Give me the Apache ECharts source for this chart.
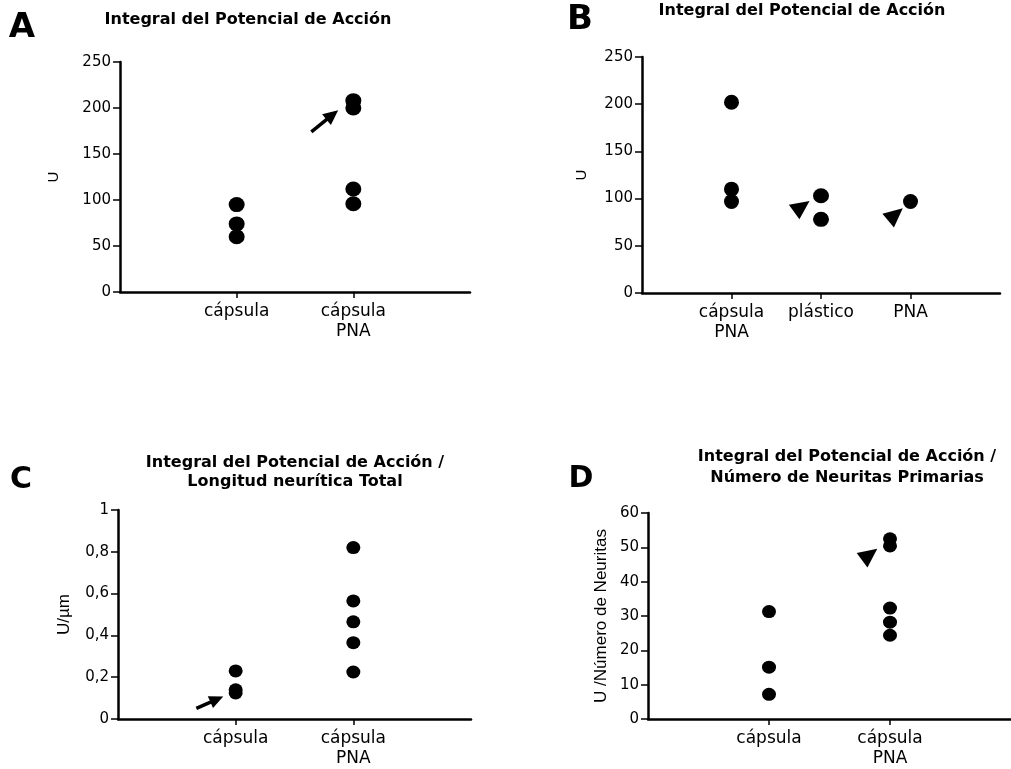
<!DOCTYPE html>
<html>
<head>
<meta charset="utf-8">
<script src="https://cdn.jsdelivr.net/npm/echarts@6/dist/echarts.min.js"></script>
<style>
  html, body { margin: 0; padding: 0; background: #fff; }
  #chart { width: 1011px; height: 769px; }
</style>
</head>
<body>
<div id="chart"></div>
<script>
// Panel A: Integral del Potencial de Acción
var catsA = ['cápsula', 'cápsula\nPNA'];
var capsulaA = [95, 74, 60];
var capsulaPnaA = [208, 200, 112, 96];
var arrowA = [[1.64, 174], [1.82, 192.5]];

// Panel B
var catsB = ['cápsula\nPNA', 'plástico', 'PNA'];
var capsulaPnaB = [202, 110, 97];
var plasticoB = [103, 78];
var pnaB = [97];
var arrowsB = [[[1.71, 86.5], [1.786, 91.7]], [[2.76, 77.5], [2.832, 83.2]]];

// Panel C: U/µm
var catsC = ['cápsula', 'cápsula\nPNA'];
var capsulaC = [0.23, 0.14, 0.125];
var capsulaPnaC = [0.82, 0.565, 0.465, 0.365, 0.225];
var arrowC = [[0.666, 0.051], [0.84, 0.094]];

// Panel D: U / Número de Neuritas
var catsD = ['cápsula', 'cápsula\nPNA'];
var capsulaD = [31.3, 15.1, 7.2];
var capsulaPnaD = [52.5, 50.4, 32.3, 28.2, 24.4];
var arrowD = [[1.775, 46.4], [1.832, 47.9]];

var FONT = 'DejaVu Sans';

function pts(x, vals) {
    return vals.map(function (v) { return [x, v]; });
}

function xAxisFor(idx, cats) {
    var ticks = cats.map(function (c, i) { return i + 1; });
    return {
        type: 'value', gridIndex: idx, min: 0, max: cats.length + 1, interval: 1,
        splitLine: {show: false},
        axisLine: {show: true, onZero: false, lineStyle: {color: '#000', width: 2.5}},
        axisTick: {show: true, customValues: ticks, length: 6, lineStyle: {color: '#000', width: 1.5}},
        axisLabel: {
            customValues: ticks, color: '#000', fontFamily: FONT, fontSize: 17, lineHeight: 20, margin: 10,
            formatter: function (v) { return cats[v - 1] || ''; }
        }
    };
}

function yAxisFor(idx, max, interval, name, nameGap, nameSize, fmt) {
    return {
        type: 'value', gridIndex: idx, min: 0, max: max, interval: interval,
        name: name, nameLocation: 'middle', nameGap: nameGap,
        nameTextStyle: {color: '#000', fontFamily: 'Liberation Sans', fontSize: nameSize},
        splitLine: {show: false},
        axisLine: {show: true, lineStyle: {color: '#000', width: 2.5}},
        axisTick: {show: true, length: 7, lineStyle: {color: '#000', width: 1.5}},
        axisLabel: {color: '#000', fontFamily: FONT, fontSize: 15, margin: 9, formatter: fmt}
    };
}

// arrow = short thick line ending in a solid triangle
function arrowLine(pairs, size, width) {
    return {
        silent: true, animation: false,
        symbol: ['none', 'triangle'], symbolSize: size,
        label: {show: false},
        lineStyle: {color: '#000', width: width, type: 'solid', opacity: 1},
        itemStyle: {color: '#000'},
        emphasis: {disabled: true},
        data: pairs.map(function (p) { return [{coord: p[0]}, {coord: p[1]}]; })
    };
}

function dots(idx, data, size, ml) {
    var s = {
        type: 'scatter', xAxisIndex: idx, yAxisIndex: idx,
        data: data, symbolSize: size,
        itemStyle: {color: '#000', opacity: 1},
        animation: false
    };
    if (ml) s.markLine = ml;
    return s;
}

function txt(text, x, y, size, weight, lh) {
    return {
        type: 'text', x: x, y: y, silent: true,
        style: {
            text: text, fill: '#000', font: weight + ' ' + size + 'px "' + FONT + '"',
            textAlign: 'center', textVerticalAlign: 'middle', lineHeight: lh || size
        }
    };
}

var commaFmt = function (v) {
    if (v === 0 || v === 1) return String(v);
    return v.toFixed(1).replace('.', ',');
};

var option = {
    backgroundColor: '#fff',
    animation: false,
    grid: [
        {left: 120, top: 62, width: 350, height: 230},
        {left: 642, top: 57, width: 358, height: 236},
        {left: 118, top: 510, width: 353, height: 209},
        {left: 648, top: 513, width: 365, height: 210}
    ],
    xAxis: [
        xAxisFor(0, catsA),
        xAxisFor(1, catsB),
        xAxisFor(2, catsC),
        xAxisFor(3, catsD)
    ],
    yAxis: [
        yAxisFor(0, 250, 50, 'U', 59, 15),
        yAxisFor(1, 250, 50, 'U', 53, 15),
        yAxisFor(2, 1, 0.2, 'U/µm', 45, 17, commaFmt),
        yAxisFor(3, 60, 10, 'U /Número de Neuritas', 38, 17)
    ],
    series: [
        dots(0, pts(1, capsulaA), [16, 15]),
        dots(0, pts(2, capsulaPnaA), [16, 15], arrowLine([arrowA], [14, 15], 3.5)),
        dots(1, pts(1, capsulaPnaB), 15),
        dots(1, pts(2, plasticoB), [16, 15], arrowLine([arrowsB[0]], [18, 19], 3)),
        dots(1, pts(3, pnaB), 15, arrowLine([arrowsB[1]], [18, 19], 3)),
        dots(2, pts(1, capsulaC), [14, 13], arrowLine([arrowC], [13, 14], 3.5)),
        dots(2, pts(2, capsulaPnaC), [14, 13]),
        dots(3, pts(1, capsulaD), [14, 13]),
        dots(3, pts(2, capsulaPnaD), [14, 13], arrowLine([arrowD], [18, 19], 3))
    ],
    graphic: [
        txt('A', 22, 28, 34, 'bold'),
        txt('B', 580, 20, 34, 'bold'),
        txt('C', 21, 480, 30, 'bold'),
        txt('D', 581, 479, 30, 'bold'),
        txt('Integral del Potencial de Acción', 248, 20, 16, 'bold'),
        txt('Integral del Potencial de Acción', 802, 11, 16, 'bold'),
        txt('Integral del Potencial de Acción /\nLongitud neurítica Total', 295, 472, 16, 'bold', 19),
        txt('Integral del Potencial de Acción /\nNúmero de Neuritas Primarias', 847, 467, 16, 'bold', 21)
    ]
};

var myChart = echarts.init(document.getElementById('chart'));
myChart.setOption(option);
</script>
</body>
</html>
